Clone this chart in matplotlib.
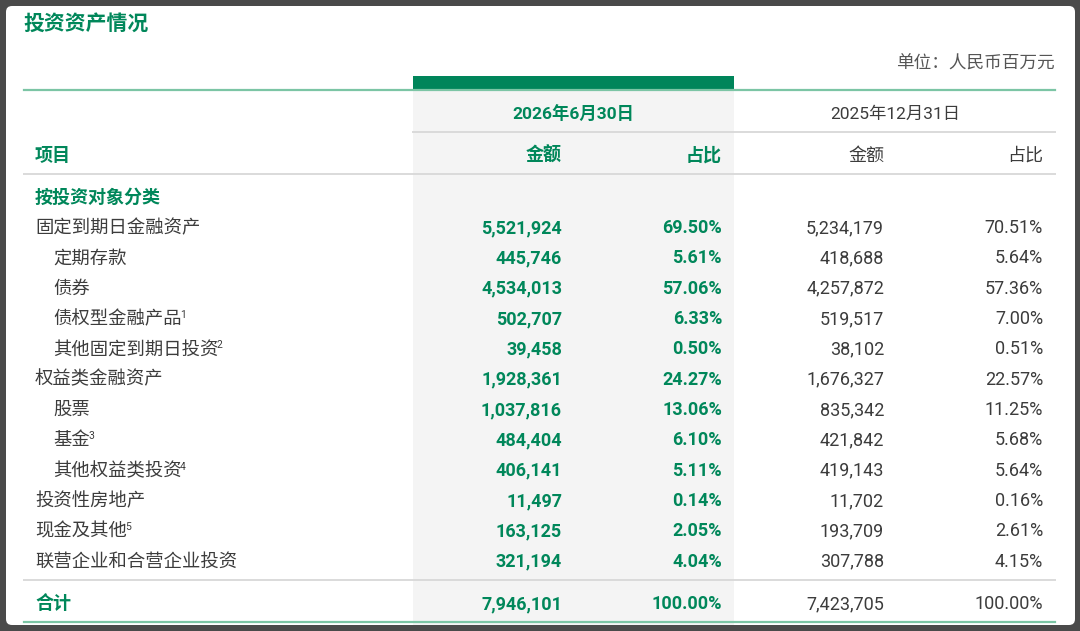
"""
Investment assets table (投资资产情况), drawn as a matplotlib figure.
"""
import matplotlib
matplotlib.use("Agg")
import matplotlib.pyplot as plt
from matplotlib.patches import FancyBboxPatch, Rectangle

plt.rcParams["font.family"] = ["Roboto", "Noto Sans CJK SC", "DejaVu Sans"]

GREEN = "#00875a"
BAR_GREEN = "#00855a"
LIGHT_GREEN = "#7cc5a5"
GRAY_LINE = "#dadada"
SHADE = "#f4f4f4"
TEXT_GRAY = "#3c3c3c"

TITLE = "投资资产情况"
UNIT = "单位：人民币百万元"
DATE_CUR = "2026年6月30日"
DATE_PREV = "2025年12月31日"

items = ["固定到期日金融资产", "定期存款", "债券", "债权型金融产品", "其他固定到期日投资",
         "权益类金融资产", "股票", "基金", "其他权益类投资",
         "投资性房地产", "现金及其他", "联营企业和合营企业投资"]
indent = [0, 1, 1, 1, 1, 0, 1, 1, 1, 0, 0, 0]
notes = ["", "", "", "1", "2", "", "", "3", "4", "", "5", ""]
amount_2026 = [5521924, 445746, 4534013, 502707, 39458, 1928361, 1037816,
               484404, 406141, 11497, 163125, 321194]
share_2026 = [69.50, 5.61, 57.06, 6.33, 0.50, 24.27, 13.06, 6.10, 5.11, 0.14, 2.05, 4.04]
amount_2025 = [5234179, 418688, 4257872, 519517, 38102, 1676327, 835342,
               421842, 419143, 11702, 193709, 307788]
share_2025 = [70.51, 5.64, 57.36, 7.00, 0.51, 22.57, 11.25, 5.68, 5.64, 0.16, 2.61, 4.15]
total_2026 = 7946101
total_2025 = 7423705

W, H = 1080, 631
DY = 2  # text baseline nudge, px
fig = plt.figure(figsize=(W / 100, H / 100), dpi=100, facecolor="#4a4a4a")
ax = fig.add_axes([0, 0, 1, 1])
ax.set_xlim(0, W)
ax.set_ylim(H, 0)
ax.axis("off")

# white card
ax.add_patch(FancyBboxPatch((6, 6), 1069, 619, boxstyle="round,pad=0,rounding_size=6",
                            facecolor="white", edgecolor="none", zorder=0))

# highlighted column
ax.add_patch(Rectangle((413, 90), 321, 535, facecolor=SHADE, edgecolor="none", zorder=1))
ax.add_patch(Rectangle((413, 76), 321, 14, facecolor=BAR_GREEN, edgecolor="none", zorder=2))

# rules
ax.plot([24, 1055], [90, 90], color=LIGHT_GREEN, lw=1.6, zorder=3)
ax.plot([413, 1055], [132, 132], color=GRAY_LINE, lw=1.4, zorder=3)
ax.plot([24, 1055], [174, 174], color=GRAY_LINE, lw=1.4, zorder=3)
ax.plot([24, 1055], [580, 580], color=GRAY_LINE, lw=1.4, zorder=3)
ax.plot([24, 1055], [622, 622], color=LIGHT_GREEN, lw=1.6, zorder=3)

FS = 13
ax.text(23, 22 + DY, TITLE, fontsize=15, fontweight="bold", color=GREEN, va="center", zorder=4)
ax.text(1055, 62 + DY, UNIT, fontsize=12.7, color="#555555", ha="right", va="center", zorder=4)

ax.text(573, 112 + DY, DATE_CUR, fontsize=FS - 0.5, fontweight="bold", color=GREEN,
        ha="center", va="center", zorder=4)
ax.text(895, 112 + DY, DATE_PREV, fontsize=FS - 0.5, color=TEXT_GRAY, ha="center",
        va="center", zorder=4)

X_LABEL = 35
X_AMT_CUR, X_SHR_CUR = 562, 722
X_AMT_PREV, X_SHR_PREV = 884, 1043

y = 154 + DY
ax.text(X_LABEL, y, "项目", fontsize=FS, fontweight="bold", color=GREEN, va="center", zorder=4)
ax.text(X_AMT_CUR, y, "金额", fontsize=FS, fontweight="bold", color=GREEN, ha="right", va="center", zorder=4)
ax.text(X_SHR_CUR, y, "占比", fontsize=FS, fontweight="bold", color=GREEN, ha="right", va="center", zorder=4)
ax.text(X_AMT_PREV, y, "金额", fontsize=FS, color=TEXT_GRAY, ha="right", va="center", zorder=4)
ax.text(X_SHR_PREV, y, "占比", fontsize=FS, color=TEXT_GRAY, ha="right", va="center", zorder=4)

ax.text(X_LABEL, 196 + DY, "按投资对象分类", fontsize=FS, fontweight="bold", color=GREEN,
        va="center", zorder=4)

fig.canvas.draw()
renderer = fig.canvas.get_renderer()

row_y0, row_step = 226, 30.35
for i, name in enumerate(items):
    ry = row_y0 + i * row_step + DY
    t = ax.text(X_LABEL + 18 * indent[i], ry, name, fontsize=FS + 0.2, color=TEXT_GRAY,
                va="center", zorder=4)
    if notes[i]:
        bb = t.get_window_extent(renderer)
        x_end = ax.transData.inverted().transform((bb.x1, bb.y0))[0]
        ax.text(x_end - 1.5, ry - 4, notes[i], fontsize=7.5, color=TEXT_GRAY,
                va="center", zorder=4)
    ax.text(X_AMT_CUR, ry, f"{amount_2026[i]:,}", fontsize=FS, fontweight="bold",
            color=GREEN, ha="right", va="center", zorder=4)
    ax.text(X_SHR_CUR, ry, f"{share_2026[i]:.2f}%", fontsize=FS, fontweight="bold",
            color=GREEN, ha="right", va="center", zorder=4)
    ax.text(X_AMT_PREV, ry, f"{amount_2025[i]:,}", fontsize=FS, color=TEXT_GRAY,
            ha="right", va="center", zorder=4)
    ax.text(X_SHR_PREV, ry, f"{share_2025[i]:.2f}%", fontsize=FS, color=TEXT_GRAY,
            ha="right", va="center", zorder=4)

y = 602 + DY
ax.text(X_LABEL, y, "合计", fontsize=FS, fontweight="bold", color=GREEN, va="center", zorder=4)
ax.text(X_AMT_CUR, y, f"{total_2026:,}", fontsize=FS, fontweight="bold", color=GREEN,
        ha="right", va="center", zorder=4)
ax.text(X_SHR_CUR, y, "100.00%", fontsize=FS, fontweight="bold", color=GREEN,
        ha="right", va="center", zorder=4)
ax.text(X_AMT_PREV, y, f"{total_2025:,}", fontsize=FS, color=TEXT_GRAY,
        ha="right", va="center", zorder=4)
ax.text(X_SHR_PREV, y, "100.00%", fontsize=FS, color=TEXT_GRAY,
        ha="right", va="center", zorder=4)

fig.savefig("out.png", dpi=100, facecolor=fig.get_facecolor())
